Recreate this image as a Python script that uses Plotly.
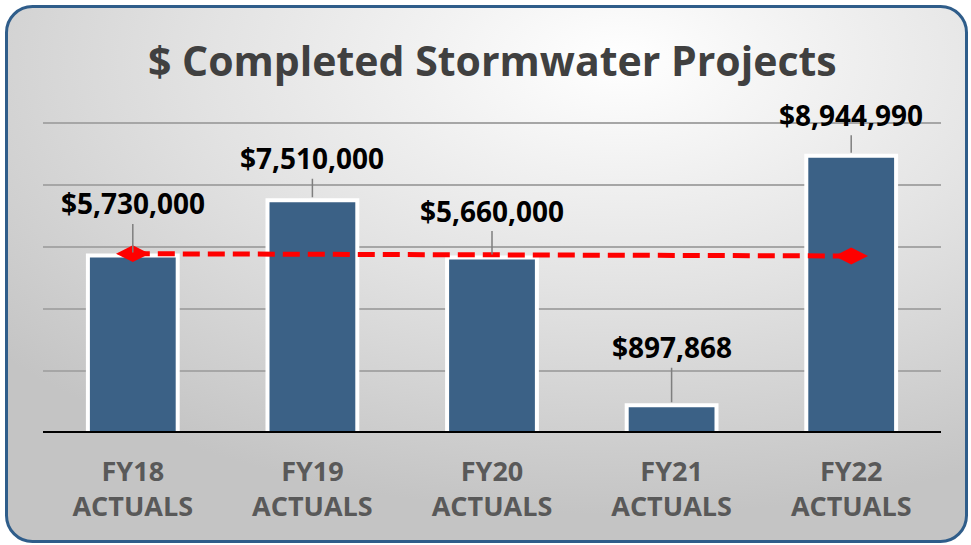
import plotly.graph_objects as go
import urllib.parse

categories = ["FY18", "FY19", "FY20", "FY21", "FY22"]
tick_labels = ["<b>FY18<br>ACTUALS</b>", "<b>FY19<br>ACTUALS</b>", "<b>FY20<br>ACTUALS</b>",
               "<b>FY21<br>ACTUALS</b>", "<b>FY22<br>ACTUALS</b>"]
values = [5730000, 7510000, 5660000, 897868, 8944990]
labels = ["$5,730,000", "$7,510,000", "$5,660,000", "$897,868", "$8,944,990"]
trend_x = ["FY18", "FY22"]
trend_y = [5785000, 5712000]
y_ticks = [0, 2000000, 4000000, 6000000, 8000000, 10000000]

W, H = 971, 545
ML, MR, MT, MB = 43, 30, 120, 112
label_offsets = [-52, -42, -47, -58, -41]
FONT = "Open Sans"

svg = f'''<svg xmlns="http://www.w3.org/2000/svg" width="{W}" height="{H}" viewBox="0 0 {W} {H}" preserveAspectRatio="none">
<defs><radialGradient id="g" cx="64%" cy="10%" r="85%" gradientUnits="objectBoundingBox">
<stop offset="0" stop-color="#ffffff"/><stop offset="0.5" stop-color="#e3e3e3"/><stop offset="1" stop-color="#c4c4c4"/></radialGradient></defs>
<rect x="0" y="0" width="{W}" height="{H}" fill="#ffffff"/>
<rect x="6.5" y="6.5" width="960" height="535" rx="26" ry="26" fill="url(#g)" stroke="#2f5d8a" stroke-width="3"/>
</svg>'''
bg_src = "data:image/svg+xml;charset=utf-8," + urllib.parse.quote(svg)

pw = W - ML - MR
ph = H - MT - MB

fig = go.Figure()
fig.add_trace(go.Bar(
    x=categories, y=values,
    marker=dict(color="#3b6186", line=dict(color="#ffffff", width=4)),
    hoverinfo="skip",
))
fig.add_trace(go.Scatter(
    x=trend_x, y=trend_y, mode="lines+markers",
    line=dict(color="#ff0000", width=5, dash="17px,8px"),
    marker=dict(symbol="diamond-wide", size=24, color="#ff0000", line=dict(width=0)),
    hoverinfo="skip",
))

for c, v, t, off in zip(categories, values, labels, label_offsets):
    fig.add_annotation(
        x=c, y=v, text=f"<b>{t}</b>", showarrow=True, arrowhead=0,
        arrowcolor="#7f7f7f", arrowwidth=1.5, ax=0, ay=off, standoff=3,
        font=dict(family=FONT, size=28, color="#000000"),
    )

fig.add_shape(type="line", xref="paper", yref="y", x0=0, x1=1, y0=0, y1=0,
              line=dict(color="#000000", width=4))

fig.add_annotation(
    text="<b>$ Completed Stormwater Projects</b>", xref="paper", yref="paper",
    x=(492 - ML) / pw, y=1 + (MT - 60) / ph, yanchor="middle", xanchor="center",
    showarrow=False,
    font=dict(family=FONT, size=41, color="#404040"),
)

fig.update_layout(
    width=W, height=H,
    margin=dict(l=ML, r=MR, t=MT, b=MB),
    paper_bgcolor="rgba(0,0,0,0)", plot_bgcolor="rgba(0,0,0,0)",
    showlegend=False, bargap=0.5,
    images=[dict(source=bg_src, xref="paper", yref="paper",
                 x=-ML / pw, y=1 + MT / ph, sizex=W / pw, sizey=H / ph,
                 sizing="stretch", layer="below", xanchor="left", yanchor="top")],
    xaxis=dict(showgrid=False, showline=False, zeroline=False, ticks="",
               tickvals=categories, ticktext=tick_labels, ticklabelstandoff=20,
               tickfont=dict(family=FONT, size=27, color="#595959"),
               categoryorder="array", categoryarray=categories),
    yaxis=dict(range=[0, 10100000], tickvals=y_ticks, showticklabels=False,
               showgrid=True, gridcolor="#a6a6a6", gridwidth=1.5,
               zeroline=False, showline=False),
)

fig.write_html("out.html", config={"displayModeBar": False},
               post_script="document.body.style.margin='0';")
